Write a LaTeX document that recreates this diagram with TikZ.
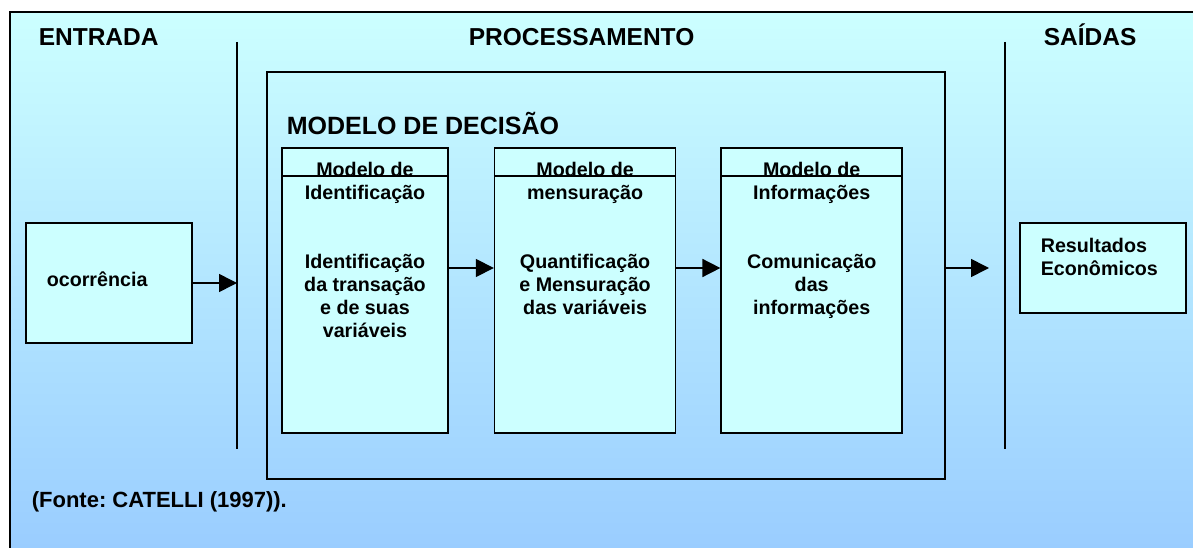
\documentclass[tikz,border=0pt]{standalone}
\usepackage{fontspec}
\setmainfont{Liberation Sans}
\usetikzlibrary{arrows.meta,positioning}
\frenchspacing

\definecolor{boxfill}{HTML}{CCFFFF}
\definecolor{bgtop}{HTML}{CCFFFF}
\definecolor{bgbot}{HTML}{99CCFF}

\begin{document}
\begin{tikzpicture}[x=1pt,y=-1pt,line width=1.6pt,
	big/.style = {font=\bfseries\fontsize{24.5}{28}\selectfont, inner sep=0pt},
	small/.style = {font=\bfseries\fontsize{19.7}{23}\selectfont, inner sep=0pt, align=center},
	model box/.style = {rectangle,draw,fill=boxfill,inner sep=0pt,minimum height=285pt,minimum width=181pt},
	side box/.style = {rectangle,draw,fill=boxfill,inner sep=0pt,minimum width=166pt},
	arr/.style = {-{Triangle[length=18pt,width=18pt]}}]
	
	\useasboundingbox (0,0) rectangle (1193,548);
	\clip (0,0) rectangle (1193,548);
	\shade[top color=bgtop,bottom color=bgbot] (10,12) rectangle (1210,560);
	\draw (10,560) -- (10,12) -- (1210,12);
	
	% titles
	\node[big,anchor=base west] (t1) at (38,46) {ENTRADA};
	\node[big,anchor=base west] (t2) at (468,46) {PROCESSAMENTO};
	\node[big,anchor=base west] (t3) at (1043,46) {SAÍDAS};
	\node[big,font=\bfseries\fontsize{22}{26}\selectfont,anchor=base west] (t4) at (31,507) {(Fonte: CATELLI (1997)).};
	
	% separators
	\coordinate (l1) at (237,42);
	\coordinate (l1b) at (237,449);
	\coordinate (l2) at (1005,42);
	\coordinate (l2b) at (1005,449);
	\draw (l1) -- (l1b);
	\draw (l2) -- (l2b);
	
	% decision model
	\node[draw,inner sep=0pt,minimum width=678pt,minimum height=407pt] (proc) at (606,275.5) {};
	\node[big,font=\bfseries\fontsize{25}{28}\selectfont,anchor=base west] (t5) at (286,135) {MODELO DE DECISÃO};
	
	\node[model box,minimum width=166pt] (2) at (365,290.5) {};
	\node[model box] (3) [right=45pt of 2] {};
	\node[model box] (4) [right=44pt of 3] {};
	\foreach \b in {2,3,4}
		\draw ([yshift=-29pt]\b.north west) -- ([yshift=-29pt]\b.north east);
	
	\node[small,anchor=north] (2a) at ([yshift=-14pt]2.north) {Modelo de\\Identificação};
	\node[small,anchor=north] (3a) at ([yshift=-14pt]3.north) {Modelo de\\mensuração};
	\node[small,anchor=north] (4a) at ([yshift=-14pt]4.north) {Modelo de\\Informações};
	\node[small,anchor=north] (2b) at ([yshift=-106pt]2.north) {Identificação\\da transação\\e de suas\\variáveis};
	\node[small,anchor=north] (3b) at ([yshift=-106pt]3.north) {Quantificação\\e Mensuração\\das variáveis};
	\node[small,anchor=north] (4b) at ([yshift=-106pt]4.north) {Comunicação\\das\\informações};
	
	% input and output
	\node[side box,minimum height=120pt] (1) at (109,283) {};
	\node[small,anchor=base west] (1a) at (46,286) {ocorrência};
	\node[side box,minimum height=90pt] (5) at (1103,268) {};
	\node[small,align=left,anchor=north west] (5a) at (1040,237) {Resultados\\Econômicos};
	
	\coordinate (o) at (989,268);
	\draw[arr] (1) -- (1 -| l1);
	\draw[arr] ([yshift=22.5pt]2.east) -- ([yshift=22.5pt]3.west);
	\draw[arr] ([yshift=22.5pt]3.east) -- ([yshift=22.5pt]4.west);
	\draw[arr] (proc.east |- o) -- (o);
	
\end{tikzpicture}
\end{document}
